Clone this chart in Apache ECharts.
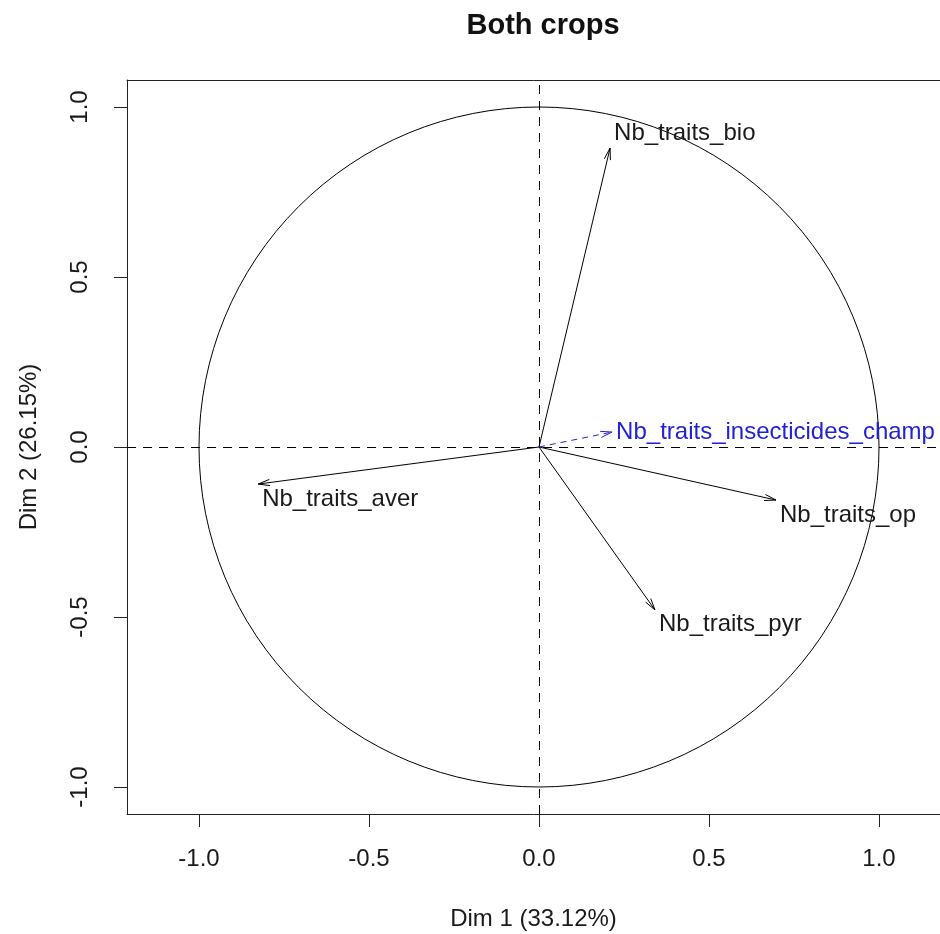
<!DOCTYPE html>
<html><head><meta charset="utf-8">
<script src="https://cdn.jsdelivr.net/npm/echarts@6/dist/echarts.min.js"></script>
<style>html,body{margin:0;padding:0;background:#fff}#c{width:940px;height:934px}</style>
</head><body><div id="c"></div>
<script>
// ---- data ----
const varNames = ['Nb_traits_bio', 'Nb_traits_aver', 'Nb_traits_insecticides_champ', 'Nb_traits_op', 'Nb_traits_pyr'];
const dim1 = [0.209, -0.826, 0.215, 0.697, 0.341];
const dim2 = [0.879, -0.109, 0.044, -0.156, -0.479];
const supplementary = [false, false, true, false, false];
const tickValues = [-1, -0.5, 0, 0.5, 1];
const chartTitle = 'Both crops';
const xName = 'Dim 1 (33.12%)';
const yName = 'Dim 2 (26.15%)';

const FONT = '"Liberation Sans", Arial, sans-serif';
const BLUE = '#2222d4';
const INK = '#1a1a1a';
const FRAME = '#222';

const arrowData = varNames.map((n, i) => [dim1[i], dim2[i], n]);

function renderArrow(params, api) {
  const idx = params.dataIndex;
  const x = api.value(0), y = api.value(1);
  const p0 = api.coord([0, 0]);
  const p1 = api.coord([x, y]);
  const sup = supplementary[idx];
  const color = sup ? BLUE : '#000';
  const ang = Math.atan2(p1[1] - p0[1], p1[0] - p0[0]);
  const L = 12, a = Math.PI / 12;
  const h1 = [p1[0] - L * Math.cos(ang - a), p1[1] - L * Math.sin(ang - a)];
  const h2 = [p1[0] - L * Math.cos(ang + a), p1[1] - L * Math.sin(ang + a)];
  const dy = y > 0.5 ? -15 : (Math.abs(y) < 0.1 && x > 0 ? 0 : 15);
  return {
    type: 'group',
    children: [
      { type: 'line', shape: { x1: p0[0], y1: p0[1], x2: p1[0], y2: p1[1] },
        style: { stroke: color, lineWidth: 1, lineDash: sup ? [6, 5] : null, fill: null } },
      { type: 'polyline', shape: { points: [h1, p1, h2] },
        style: { stroke: color, lineWidth: 1, fill: null } },
      { type: 'text', x: p1[0] + 4, y: p1[1] + dy,
        style: { text: varNames[idx], fill: sup ? BLUE : INK, font: '24px ' + FONT,
                 align: 'left', verticalAlign: 'middle' } }
    ]
  };
}

function renderCircle(params, api) {
  const c = api.coord([0, 0]);
  const r = api.coord([1, 0])[0] - c[0];
  return { type: 'circle', shape: { cx: c[0], cy: c[1], r: r },
           style: { stroke: '#000', lineWidth: 1, fill: null } };
}

const tickLabelStyle = { fontSize: 24, fontFamily: FONT, color: INK, formatter: v => v.toFixed(1) };

const chart = echarts.init(document.getElementById('c'), null, { renderer: 'canvas' });
chart.setOption({
  animation: false,
  backgroundColor: '#fff',
  title: {
    text: chartTitle, left: 538, top: 6, textAlign: 'center',
    textStyle: { fontSize: 29, fontWeight: 'bold', fontFamily: FONT, color: '#111' }
  },
  grid: { left: 127, top: 80, right: 0, height: 734, show: false, outerBoundsMode: 'none', containLabel: false },
  xAxis: [{
    type: 'value', min: -1.2118, max: 1.1794, position: 'bottom',
    name: xName, nameLocation: 'middle', nameGap: 93,
    nameTextStyle: { fontSize: 24, fontFamily: FONT, color: INK },
    axisLine: { show: true, onZero: false, lineStyle: { color: FRAME, width: 1 } },
    splitLine: { show: false },
    axisTick: { show: true, length: 13, inside: false, customValues: tickValues,
                lineStyle: { color: FRAME, width: 1 } },
    axisLabel: Object.assign({ customValues: tickValues, margin: 33 }, tickLabelStyle)
  }, {
    type: 'value', min: -1.2118, max: 1.1794, position: 'top',
    axisLine: { show: true, onZero: false, lineStyle: { color: FRAME, width: 1 } },
    axisTick: { show: false }, axisLabel: { show: false }, splitLine: { show: false }
  }],
  yAxis: {
    type: 'value', min: -1.0794, max: 1.0794,
    name: yName, nameLocation: 'middle', nameGap: 86,
    nameTextStyle: { fontSize: 24, fontFamily: FONT, color: INK },
    axisLine: { show: true, onZero: false, lineStyle: { color: FRAME, width: 1 } },
    splitLine: { show: false },
    axisTick: { show: true, length: 13, inside: false, customValues: tickValues,
                lineStyle: { color: FRAME, width: 1 } },
    axisLabel: Object.assign({ customValues: tickValues, margin: 35, rotate: 90 }, tickLabelStyle)
  },
  series: [
    {
      type: 'custom', renderItem: renderCircle, data: [[0, 0]], clip: false, silent: true,
      encode: { x: 0, y: 1 },
      markLine: {
        silent: true, symbol: ['none', 'none'], label: { show: false },
        lineStyle: { color: '#000', width: 1, type: [9, 7] },
        data: [{ xAxis: 0 }, { yAxis: 0 }]
      }
    },
    {
      type: 'custom', renderItem: renderArrow, data: arrowData, clip: false, silent: true,
      encode: { x: 0, y: 1 }
    }
  ]
});
</script>
</body></html>
